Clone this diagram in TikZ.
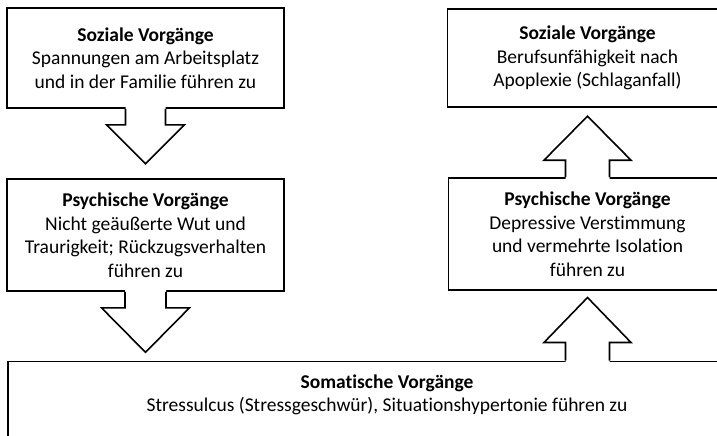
\documentclass[tikz,border=0pt]{standalone}
\usepackage{fontspec}
\setmainfont{Carlito}[Ligatures=NoCommon]
\usetikzlibrary{calc}
\begin{document}
\begin{tikzpicture}[x=1pt,y=-1pt,
  txt/.style={font=\fontsize{19.5}{23.5}\selectfont},
  box/.style={draw=black,line width=1.6pt,align=center,inner sep=0pt,txt},
  blockarrow/.style={draw=black,line width=1.6pt,line join=miter}]
\useasboundingbox (0,0) rectangle (717,436);
\clip (0,0) rectangle (717,436);
% boxes
\node[box,minimum width=277pt,minimum height=100pt] (s1) at (145.5,58)
  {\textbf{Soziale Vorgänge}\\Spannungen am Arbeitsplatz\\und in der Familie führen zu};
\node[box,minimum width=277pt,minimum height=112pt] (p1) at (145.5,235)
  {\textbf{Psychische Vorgänge}\\Nicht geäußerte Wut und\\Traurigkeit; Rückzugsverhalten\\führen zu};
\node[box,minimum width=280pt,minimum height=98pt] (s2) at (587.5,58)
  {\textbf{Soziale Vorgänge}\\Berufsunfähigkeit nach\\Apoplexie (Schlaganfall)};
\node[box,minimum width=278pt,minimum height=112pt] (p2) at (587.5,234)
  {\textbf{Psychische Vorgänge}\\Depressive Verstimmung\\und vermehrte Isolation\\führen zu};
\node[box,minimum width=760pt,minimum height=110pt,anchor=north west] (so) at (7,360.5) {};
\node[align=center,inner sep=0pt,txt] (sot) at (387,395)
  {\textbf{Somatische Vorgänge}\\Stressulcus (Stressgeschwür), Situationshypertonie führen zu};
% block arrows (down)
\coordinate (b1) at (s1.south);
\fill[white] ($(b1)+(-20,-2)$) -- ++(0,18) -- ++(-19,0) -- ($(b1)+(0,55)$) -- ++(39,-39) -- ++(-19,0) -- ++(0,-18) -- cycle;
\draw[blockarrow] ($(b1)+(-20,0)$) -- ++(0,16) -- ++(-19,0)
  -- ($(b1)+(0,55)$) coordinate (t1) -- ++(39,-39) -- ++(-19,0) -- ++(0,-16);
\coordinate (b2) at (p1.south);
\fill[white] ($(b2)+(-20.5,-2)$) -- ++(0,18) -- ++(-23.5,0) -- ($(b2)+(0,60.5)$) -- ++(44,-44.5) -- ++(-23.5,0) -- ++(0,-18) -- cycle;
\draw[blockarrow] ($(b2)+(-20.5,0)$) -- ++(0,16) -- ++(-23.5,0)
  -- ($(b2)+(0,60.5)$) coordinate (t2) -- ++(44,-44.5) -- ++(-23.5,0) -- ++(0,-16);
% block arrows (up)
\coordinate (b3) at (p2.north);
\fill[white] ($(b3)+(-22,2)$) -- ++(0,-19) -- ++(-21.5,0) -- ($(b3)+(0,-61)$) -- ++(43.5,44) -- ++(-21.5,0) -- ++(0,19) -- cycle;
\draw[blockarrow] ($(b3)+(-22,0)$) -- ++(0,-17) -- ++(-21.5,0)
  -- ($(b3)+(0,-61)$) coordinate (t3) -- ++(43.5,44) -- ++(-21.5,0) -- ++(0,17);
\coordinate (b4) at (so.north -| p2.south);
\fill[white] ($(b4)+(-22,2)$) -- ++(0,-20) -- ++(-21.5,0) -- ($(b4)+(0,-63)$) -- ++(43.5,45) -- ++(-21.5,0) -- ++(0,20) -- cycle;
\draw[blockarrow] ($(b4)+(-22,0)$) -- ++(0,-18) -- ++(-21.5,0)
  -- ($(b4)+(0,-63)$) coordinate (t4) -- ++(43.5,45) -- ++(-21.5,0) -- ++(0,18);
\end{tikzpicture}
\end{document}
